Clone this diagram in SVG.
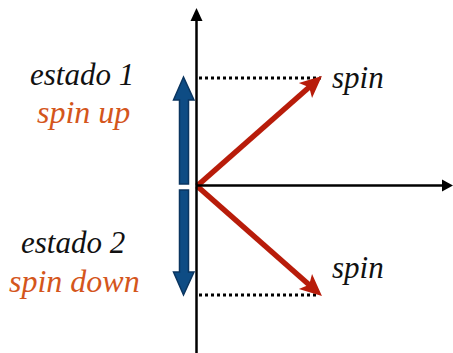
<svg xmlns="http://www.w3.org/2000/svg" width="453" height="353" viewBox="0 0 453 353">
<defs>
  <marker id="redHead" markerUnits="userSpaceOnUse" markerWidth="24" markerHeight="22" refX="6" refY="10" orient="auto" overflow="visible">
    <path d="M0,0 L22,10 L0,20 L5,10 Z" fill="#b81c0a"/>
  </marker>
</defs>
<g id="connectors" fill="none">
  <line x1="199" y1="78" x2="321" y2="78" stroke="#000" stroke-width="3" stroke-dasharray="3 3"/>
  <line x1="199" y1="295" x2="318" y2="295" stroke="#000" stroke-width="3" stroke-dasharray="3 3"/>
  <line x1="197" y1="186" x2="309.94" y2="86.48" stroke="#b81c0a" stroke-width="5.5" marker-end="url(#redHead)"/>
  <line x1="197" y1="186" x2="309.94" y2="285.52" stroke="#b81c0a" stroke-width="5.5" marker-end="url(#redHead)"/>
</g>
<g id="axis-y">
  <line x1="196.5" y1="18" x2="196.5" y2="353" stroke="#000" stroke-width="2.5"/>
  <polygon points="196.5,8 190.5,21 202.5,21" fill="#000"/>
</g>
<g id="axis-x">
  <line x1="196" y1="185.5" x2="444" y2="185.5" stroke="#000" stroke-width="2.5"/>
  <polygon points="453,185.5 442,179.5 442,191.5" fill="#000"/>
</g>
<g id="spin-up-arrow">
  <polygon points="183.5,77 194,100 188.5,100 188.5,184 179.5,184 179.5,100 173.5,100" fill="#0e4c84" stroke="#0a3560" stroke-width="1.5"/>
</g>
<g id="spin-down-arrow">
  <polygon points="179.5,190 188.5,190 188.5,272 194,272 183.5,295 173.5,272 179.5,272" fill="#0e4c84" stroke="#0a3560" stroke-width="1.5"/>
</g>
<g id="labels" font-family="Liberation Serif, Times New Roman, serif" font-style="italic">
<g id="label-estado1">
  <text x="30" y="85" fill="#111" font-size="31">estado 1</text>
  <text x="37" y="123" fill="#d4561c" font-size="32">spin up</text>
</g>
<g id="label-estado2">
  <text x="21" y="253" fill="#111" font-size="31">estado 2</text>
  <text x="9" y="292" fill="#d4561c" font-size="32">spin down</text>
</g>
<g id="label-spin-top">
  <text x="332" y="88" fill="#111" font-size="31">spin</text>
</g>
<g id="label-spin-bottom">
  <text x="332" y="278" fill="#111" font-size="31">spin</text>
</g>
</g>
</svg>
